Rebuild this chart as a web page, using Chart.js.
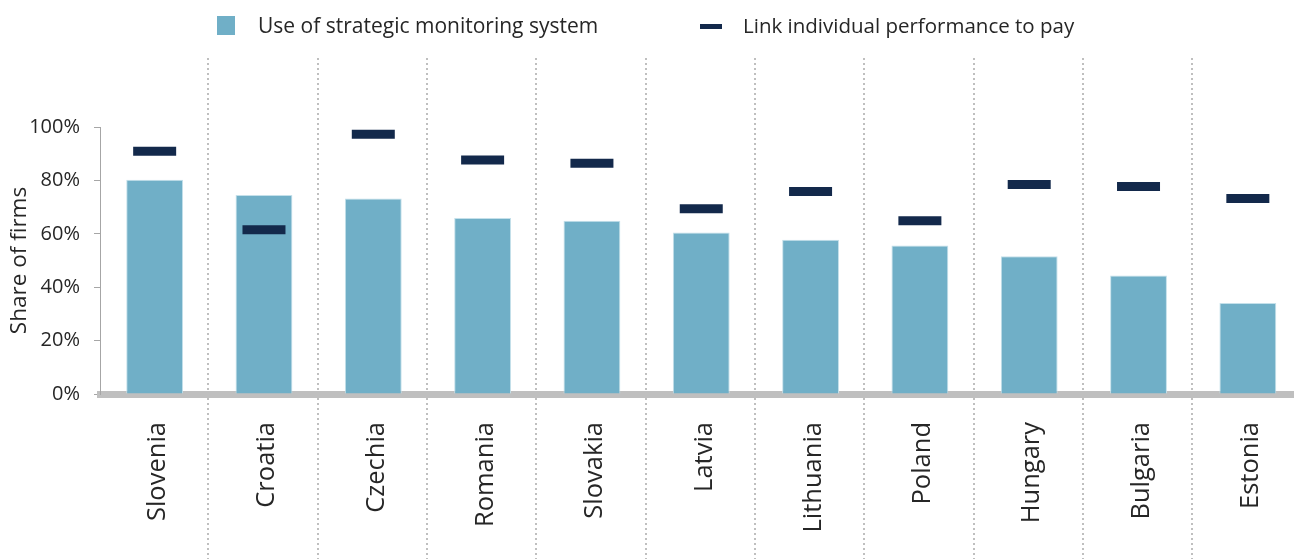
<!DOCTYPE html>
<html lang="en">
    <head>
        <meta charset="utf-8"/>
        <script src="https://cdn.jsdelivr.net/npm/chart.js"></script>
        <title> Management practices </title>
        <style>
            * {
                box-sizing: border-box;
            }
            body {
                margin: 0;
                background: #ffffff;
                font-family: "Open Sans", sans-serif;
                color: #262626;
            }
            /* the canvas is wider than the page: the last category runs past the right edge */
            .wrap {
                position: relative;
                width: 1294px;
                height: 559px;
                overflow: hidden;
            }
            /* legend sits over the top of the canvas */
            .legend {
                position: absolute;
                top: 0;
                left: 0;
                width: 100%;
                height: 50px;
                font-size: 20.5px;
            }
            .legend span {
                position: absolute;
                top: 11px;
                white-space: nowrap;
            }
            .swatch-bar {
                position: absolute;
                left: 217px;
                top: 16px;
                width: 18px;
                height: 19px;
                background: #70afc7;
            }
            .swatch-dash {
                position: absolute;
                left: 700px;
                top: 24px;
                width: 22px;
                height: 5px;
                background: #13294b;
            }
        </style>
    </head>

    <body>
        <div class="wrap">
            <canvas id="practicesChart" width="1333" height="559"></canvas>
            <div class="legend">
                <div class="swatch-bar"></div>
                <span style="left: 258px; font-size: 21px">Use of strategic monitoring system</span>
                <div class="swatch-dash"></div>
                <span style="left: 743px">Link individual performance to pay</span>
            </div>
        </div>

        <script>
            const countries = ['Slovenia', 'Croatia', 'Czechia', 'Romania', 'Slovakia', 'Latvia', 'Lithuania', 'Poland', 'Hungary', 'Bulgaria', 'Estonia'];
            // share of firms, %
            const monitoringSystem = [80.2, 74.5, 73.2, 65.9, 64.9, 60.5, 57.8, 55.6, 51.6, 44.4, 34.1];
            const performancePay = [90.9, 61.5, 97.3, 87.6, 86.4, 69.4, 75.8, 64.9, 78.5, 77.7, 73.2];
            const yTicks = [0, 20, 40, 60, 80, 100];

            const textColor = '#262626';

            // dotted separators between the countries, running from under the legend to the bottom
            const categoryDividers = {
                id: 'categoryDividers',
                beforeDatasetsDraw(chart) {
                    const ctx = chart.ctx;
                    const x = chart.scales.x;
                    ctx.save();
                    ctx.strokeStyle = '#bfbfbf';
                    ctx.lineWidth = 2;
                    ctx.setLineDash([2, 3]);
                    for (let i = 1; i < countries.length; i++) {
                        const px = Math.round((x.getPixelForValue(i - 1) + x.getPixelForValue(i)) / 2) - 1;
                        ctx.beginPath();
                        ctx.moveTo(px, 58);
                        ctx.lineTo(px, chart.height);
                        ctx.stroke();
                    }
                    ctx.restore();
                }
            };

            const ctx = document.getElementById('practicesChart').getContext('2d');

            const practicesChart = new Chart(ctx, {
                data: {
                    labels: countries,
                    datasets: [
                        {
                            type: 'line',
                            label: 'Link individual performance to pay',
                            data: performancePay,
                            showLine: false,
                            pointStyle: 'line',
                            pointRadius: 21.5,
                            pointHoverRadius: 21.5,
                            pointBorderWidth: 9,
                            pointHoverBorderWidth: 9,
                            borderColor: '#13294b',
                            backgroundColor: '#13294b',
                            order: 0
                        },
                        {
                            type: 'bar',
                            label: 'Use of strategic monitoring system',
                            data: monitoringSystem,
                            backgroundColor: '#70afc7',
                            borderColor: '#c4e0ea',
                            borderWidth: 1,
                            barPercentage: 0.52,
                            categoryPercentage: 1,
                            order: 1
                        }
                    ]
                },
                options: {
                    responsive: false,
                    animation: false,
                    events: [],
                    layout: {
                        padding: { top: 127, right: 0, bottom: 0, left: 0 }
                    },
                    plugins: {
                        legend: { display: false },
                        tooltip: { enabled: false }
                    },
                    scales: {
                        x: {
                            type: 'category',
                            offset: true,
                            z: 1,
                            grid: { display: false },
                            border: { color: '#bfbfbf', width: 7 },
                            ticks: {
                                minRotation: 90,
                                maxRotation: 90,
                                padding: 20,
                                labelOffset: 3,
                                color: textColor,
                                font: { family: 'Open Sans', size: 25.5 }
                            },
                            afterFit(scale) {
                                scale.height = 165;
                            }
                        },
                        y: {
                            min: 0,
                            max: 100,
                            afterBuildTicks(scale) {
                                scale.ticks = yTicks.map(v => ({ value: v }));
                            },
                            grid: {
                                drawOnChartArea: false,
                                drawTicks: true,
                                tickLength: 6,
                                color: '#a6a6a6'
                            },
                            border: { color: '#a6a6a6', width: 1 },
                            ticks: {
                                padding: 14,
                                color: textColor,
                                font: { family: 'Open Sans', size: 20 },
                                callback: v => v + '%'
                            },
                            title: {
                                display: true,
                                text: 'Share of firms',
                                color: textColor,
                                font: { family: 'Open Sans', size: 22.5 },
                                padding: { top: 6, bottom: 0 }
                            },
                            afterFit(scale) {
                                scale.width = 100;
                            }
                        }
                    }
                },
                plugins: [categoryDividers]
            });
        </script>
    </body>
</html>
